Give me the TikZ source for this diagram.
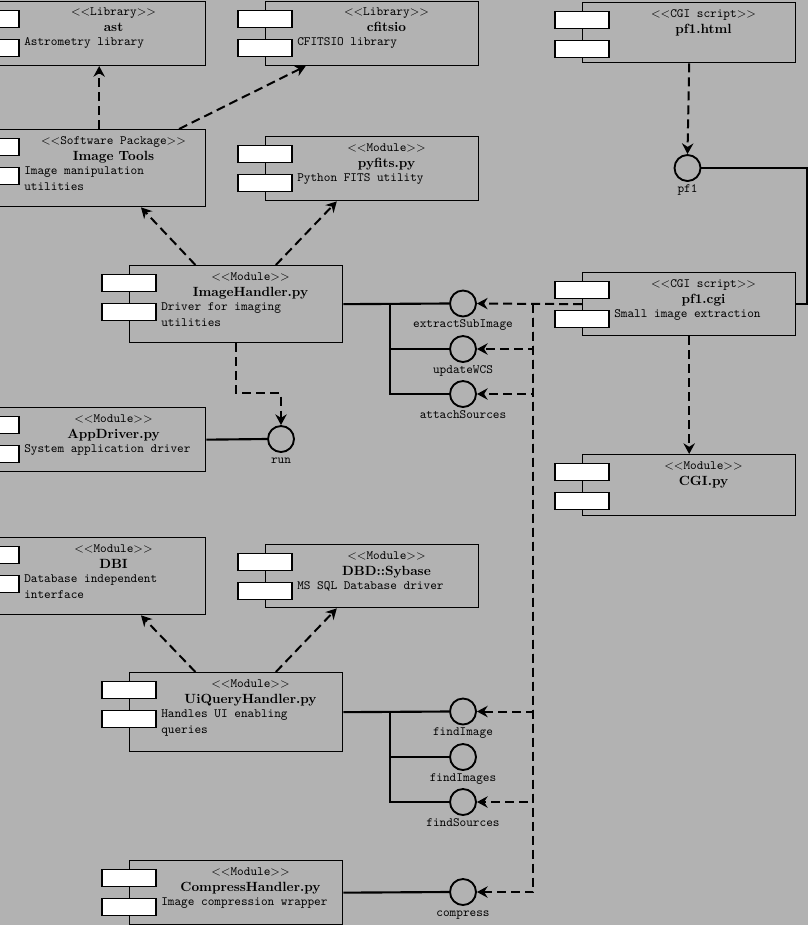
\documentclass[tikz,border=0pt]{standalone}
\usetikzlibrary{arrows.meta,calc}

% component box: name, west x, top y, height, stereotype, title, two text lines
\newcommand{\umlcomp}[8]{%
	\node[comp, minimum height=#4*0.75pt] (#1) at (#2,#3) {};
	\node[port] (#1-a) at (#2,#3+18) {};
	\node[port] (#1-b) at (#2,#3+47) {};
	\node[stereo] (#1-s) at (#2+121.5,#3+15) {$<<$#5$>>$};
	\node[cname]  (#1-t) at (#2+121.5,#3+31) {#6};
	\node[descr]  (#1-d) at (#2+32,#3+45) {#7};
	\node[descr]  (#1-e) at (#2+32,#3+61) {#8};
}
% interface lollipop: name, x, y, label
\newcommand{\umliface}[4]{%
	\node[iface] (#1) at (#2,#3) {};
	\node[iflbl] (#1-l) at (#2,#3+24) {#4};
}

\begin{document}
\begin{tikzpicture}[x=0.75pt,y=-0.75pt,>={Stealth[length=8pt,width=8.5pt]},
	comp/.style={draw, line width=1pt, minimum width=159.75pt, inner sep=0pt, anchor=north west},
	port/.style={draw, fill=white, line width=0.8pt, minimum width=40.5pt, minimum height=12.75pt, inner sep=0pt},
	stereo/.style={anchor=base, inner sep=0pt, font=\fontsize{9.5}{11}\selectfont\ttfamily},
	cname/.style={anchor=base, inner sep=0pt, font=\fontsize{10}{12}\selectfont\bfseries},
	descr/.style={anchor=base west, inner sep=0pt, font=\fontsize{9.5}{11}\selectfont\ttfamily},
	iface/.style={circle, draw, line width=1.4pt, minimum size=19.5pt, inner sep=0pt},
	iflbl/.style={anchor=base, inner sep=0pt, font=\fontsize{9.5}{11}\selectfont\ttfamily},
	conn/.style={line width=1.6pt},
	dep/.style={line width=1.5pt, dash pattern=on 6.75pt off 3.75pt}]
	\useasboundingbox (0,0) rectangle (808,925);
	\clip (0,0) rectangle (808,925);
	\fill[black!30] (0,0) rectangle (808,925);

	% components
	\umlcomp{ast}{-8}{0.7}{64}{Library}{ast}{Astrometry library}{}
	\umlcomp{cfitsio}{265}{0.7}{64}{Library}{cfitsio}{CFITSIO library}{}
	\umlcomp{pf1html}{582}{2}{60}{CGI script}{pf1.html}{}{}
	\umlcomp{imgtools}{-8}{129}{77}{Software Package}{Image Tools}{Image manipulation}{utilities}
	\umlcomp{pyfits}{265}{136}{64}{Module}{pyfits.py}{Python FITS utility}{}
	\umlcomp{imh}{129}{265}{77}{Module}{ImageHandler.py}{Driver for imaging}{utilities}
	\umlcomp{pf1cgi}{582}{272}{63}{CGI script}{pf1.cgi}{Small image extraction}{}
	\umlcomp{appdrv}{-8}{407}{64}{Module}{AppDriver.py}{System application driver}{}
	\umlcomp{cgipy}{582}{454}{61}{Module}{CGI.py}{}{}
	\umlcomp{dbi}{-8}{537}{77}{Module}{DBI}{Database independent}{interface}
	\umlcomp{dbd}{265}{544}{63}{Module}{DBD::Sybase}{MS SQL Database driver}{}
	\umlcomp{uiq}{129}{672}{79}{Module}{UiQueryHandler.py}{Handles UI enabling}{queries}
	\umlcomp{cmph}{129}{860}{64}{Module}{CompressHandler.py}{Image compression wrapper}{}

	% interfaces
	\umliface{pf1}{687.5}{168}{pf1}
	\umliface{xsub}{463}{303.5}{extractSubImage}
	\umliface{wcs}{463}{349}{updateWCS}
	\umliface{asrc}{463}{394}{attachSources}
	\umliface{run}{281}{439}{run}
	\umliface{fimg}{463}{711.5}{findImage}
	\umliface{fimgs}{463}{757}{findImages}
	\umliface{fsrc}{463}{802}{findSources}
	\umliface{cmp}{463}{892}{compress}

	\coordinate (pf1turn) at (807,168);
	\coordinate (imhbus) at (390,303.5);
	\coordinate (uiqbus) at (390,711.5);
	\coordinate (cgibus) at (533,303.5);

	% realisations
	\draw[conn] (pf1.east) -- (pf1turn) |- (pf1cgi.east);
	\draw[conn] (imh.east) -- (xsub.west);
	\draw[conn] (imhbus) |- (wcs.west);
	\draw[conn] (imhbus) |- (asrc.west);
	\draw[conn] (appdrv.east) -- (run.west);
	\draw[conn] (uiq.east) -- (fimg.west);
	\draw[conn] (uiqbus) |- (fimgs.west);
	\draw[conn] (uiqbus) |- (fsrc.west);
	\draw[conn] (cmph.east) -- (cmp.west);

	% dependencies
	\draw[dep,->] (pf1html.south) -- (pf1.north);
	\draw[dep,->] (pf1cgi.south) -- (cgipy.north);
	\draw[dep,->] (pf1cgi.west) -- (xsub.east);
	\draw[dep,->] (cgibus) |- (wcs.east);
	\draw[dep,->] (cgibus) |- (asrc.east);
	\draw[dep,->] (cgibus) |- (fimg.east);
	\draw[dep,->] (cgibus) |- (fsrc.east);
	\draw[dep,->] (cgibus) |- (cmp.east);
	\draw[dep,->] (imh.south) -- ++(0,50) -| (run.north);
	\draw[dep,->] (imgtools.north) -- (ast.south);
	\draw[dep,->] ($(imgtools.north west)!0.873!(imgtools.north east)$) -- ($(cfitsio.south west)!0.19!(cfitsio.south east)$);
	\draw[dep,->] ($(imh.north west)!0.31!(imh.north east)$) -- ($(imgtools.south west)!0.695!(imgtools.south east)$);
	\draw[dep,->] ($(imh.north west)!0.685!(imh.north east)$) -- ($(pyfits.south west)!0.335!(pyfits.south east)$);
	\draw[dep,->] ($(uiq.north west)!0.31!(uiq.north east)$) -- ($(dbi.south west)!0.695!(dbi.south east)$);
	\draw[dep,->] ($(uiq.north west)!0.685!(uiq.north east)$) -- ($(dbd.south west)!0.335!(dbd.south east)$);
\end{tikzpicture}
\end{document}
